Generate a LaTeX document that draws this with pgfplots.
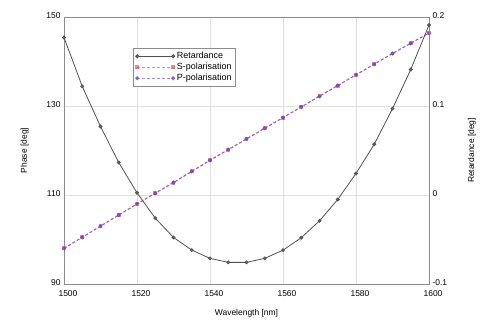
\documentclass[border=0pt]{standalone}
\usepackage{pgfplots}
\pgfplotsset{compat=1.18}
\usepackage{fontspec}
\setmainfont{Liberation Sans}
\definecolor{frame}{HTML}{8C8C8C}
\definecolor{retc}{HTML}{505050}
\definecolor{spol}{HTML}{E05A6A}
\definecolor{ppol}{HTML}{6040D0}
\begin{document}
\begin{tikzpicture}
\pgfplotsset{
  every axis/.append style={
    scale only axis, width=365bp, height=267bp, xmin=1500, xmax=1600,
    font=\fontsize{8.5}{10}\selectfont,
    /pgf/number format/assume math mode=true,
    /pgf/number format/1000 sep={},
    axis line style={frame, line width=0.8pt},
    major tick length=0pt,
  }
}
\begin{axis}[
  ymin=90, ymax=150, ytick={90,110,130,150},
  xtick={1500,1520,...,1600},
  xticklabel style={xshift=4bp, yshift=-3bp},
  yticklabel style={yshift=1bp},
  grid=major, grid style={gray!25, line width=0.5pt},
  xlabel={Wavelength [nm]}, ylabel={Phase [deg]},
  xlabel style={yshift=-6bp},
  ylabel style={yshift=11bp},
]
\addplot[spol, opacity=0.7, densely dashed, line width=1pt, mark=square*, mark size=1.5pt, mark options={solid}] coordinates {
(1500,98.0) (1505,100.5) (1510,103.0) (1515,105.5) (1520,108.0) (1525,110.4)
(1530,112.8) (1535,115.3) (1540,117.8) (1545,120.2) (1550,122.6) (1555,125.0)
(1560,127.4) (1565,129.8) (1570,132.2) (1575,134.6) (1580,137.0) (1585,139.4)
(1590,141.8) (1595,144.1) (1600,146.4)};
\addplot[ppol, opacity=0.6, densely dashed, line width=1pt, mark=*, mark size=1.6pt, mark options={solid}] coordinates {
(1500,98.0) (1505,100.5) (1510,103.0) (1515,105.5) (1520,108.0) (1525,110.4)
(1530,112.8) (1535,115.3) (1540,117.8) (1545,120.2) (1550,122.6) (1555,125.0)
(1560,127.4) (1565,129.8) (1570,132.2) (1575,134.6) (1580,137.0) (1585,139.4)
(1590,141.8) (1595,144.1) (1600,146.4)};
\end{axis}
\begin{axis}[
  axis y line*=right, axis x line=none,
  ymin=-0.1, ymax=0.2, ytick={-0.1,0,0.1,0.2},
  yticklabel style={/pgf/number format/fixed, yshift=1bp},
  ylabel={Retardance [deg]},
  ylabel style={yshift=-14bp},
  legend style={at={(0.19,0.884)}, anchor=north west, draw=frame, line width=0.6pt,
    font=\fontsize{9}{10}\selectfont, row sep=-1pt, inner sep=2pt},
  legend cell align=left,
  legend image code/.code={\draw[#1] plot coordinates {(0bp,0bp) (36bp,0bp)};},
]
\addplot[retc, line width=0.8pt, mark=*, mark size=1.5pt, mark options={fill=retc!80}] coordinates {
(1500,0.177) (1505,0.122) (1510,0.077) (1515,0.0365) (1520,0.0025) (1525,-0.026)
(1530,-0.0477) (1535,-0.0619) (1540,-0.0712) (1545,-0.0757) (1550,-0.0757)
(1555,-0.0712) (1560,-0.062) (1565,-0.048) (1570,-0.029) (1575,-0.005)
(1580,0.0242) (1585,0.057) (1590,0.097) (1595,0.141) (1600,0.191)};
\addlegendentry{Retardance}
\addlegendimage{spol, opacity=0.7, densely dashed, line width=1pt, mark=square*, mark size=1.5pt, mark options={solid}}
\addlegendentry{S-polarisation}
\addlegendimage{ppol, opacity=0.6, densely dashed, line width=1pt, mark=*, mark size=1.6pt, mark options={solid}}
\addlegendentry{P-polarisation}
\end{axis}
\pgfresetboundingbox
\path ([shift={(-64bp,-38bp)}]current axis.south west) rectangle ([shift={(56bp,17bp)}]current axis.north east);
\end{tikzpicture}
\end{document}
